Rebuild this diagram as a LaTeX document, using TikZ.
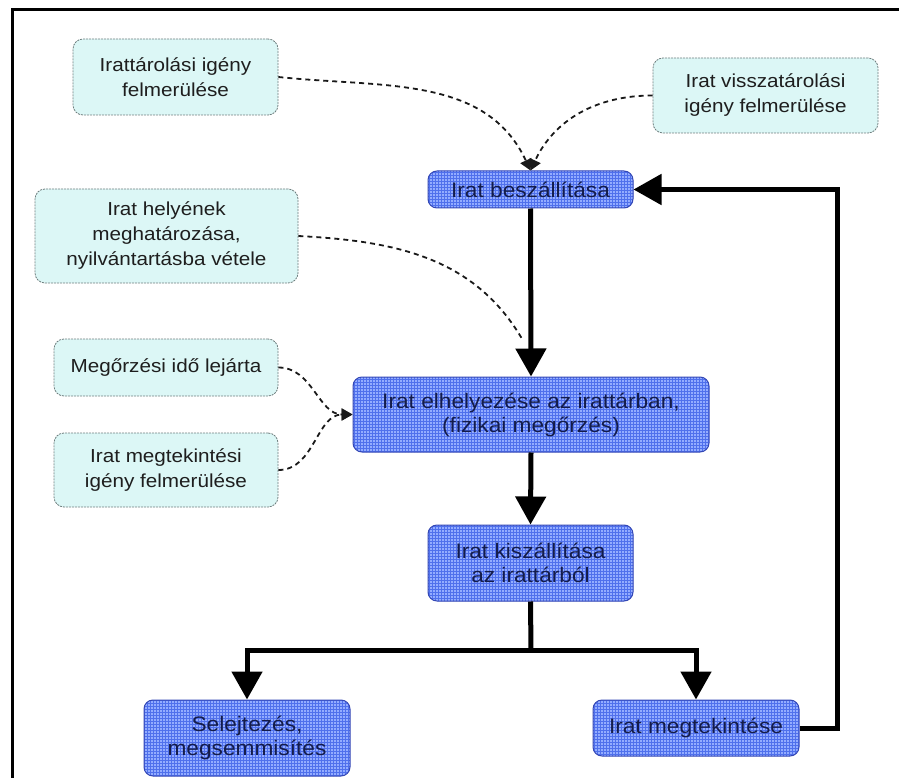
\documentclass[tikz,border=0pt]{standalone}
\usepackage{fontspec}
\setmainfont{Liberation Sans}
\newfontfamily\notefont{Liberation Sans}[FakeStretch=1.1]
\newfontfamily\stepfont{Liberation Sans}[FakeStretch=1.08]
\usetikzlibrary{arrows.meta,patterns}

\definecolor{notefill}{HTML}{DCF7F6}
\definecolor{noteline}{HTML}{6F7F7F}
\definecolor{notetext}{HTML}{1E1E1E}
\definecolor{stepfill}{HTML}{93ACFF}
\definecolor{stepgrid}{HTML}{4F70EC}
\definecolor{stepline}{HTML}{3447B4}
\definecolor{steptext}{HTML}{141C4A}

\tikzset{
  notebox/.style={draw=noteline, line width=0.8pt, dash pattern=on 2pt off 1pt,
    fill=notefill, rounded corners=10pt, align=center, text=notetext,
    inner sep=0pt, font={\notefont\fontsize{18.8}{25}\selectfont}},
  stepbox/.style={draw=stepline, line width=1pt, rounded corners=9pt,
    preaction={fill=stepfill}, pattern=grid, pattern color=stepgrid,
    align=center, text=steptext, inner sep=0pt,
    font={\stepfont\fontsize{21}{24}\selectfont}},
  flow/.style={line width=5pt, line join=miter, -{Triangle[width=30pt,length=28pt]}},
  flowline/.style={line width=5pt, line join=miter},
  hint/.style={line width=1.8pt, draw=black!90, dash pattern=on 5pt off 4pt,
    -{Triangle[width=12pt,length=11pt]}},
  hintline/.style={line width=1.8pt, draw=black!90, dash pattern=on 5pt off 4pt},
}

\begin{document}
\begin{tikzpicture}[x=1pt,y=-1pt]
\useasboundingbox (0,0) rectangle (899,778);

% frame (top and left edges)
\draw[line width=3pt] (12,778) -- (12,10) -- (899,10);

% side notes
\node[notebox, minimum width=205pt, minimum height=76pt] (n1) at (175.5,77)
  {Irattárolási igény\\felmerülése};
\node[notebox, minimum width=225pt, minimum height=75pt] (n2) at (765.5,95.5)
  {Irat visszatárolási\\igény felmerülése};
\node[notebox, minimum width=263pt, minimum height=94pt] (n3) at (166.5,236)
  {Irat helyének\\meghatározása,\\nyilvántartásba vétele};
\node[notebox, minimum width=224pt, minimum height=57pt] (n4) at (166,367.5)
  {Megőrzési idő lejárta};
\node[notebox, minimum width=224pt, minimum height=74pt] (n5) at (166,470)
  {Irat megtekintési\\igény felmerülése};

% process steps
\node[stepbox, minimum width=205pt, minimum height=37pt] (s1) at (530.5,189.5)
  {Irat beszállítása};
\node[stepbox, minimum width=356pt, minimum height=75pt] (s2) at (531,414.5)
  {Irat elhelyezése az irattárban,\\(fizikai megőrzés)};
\node[stepbox, minimum width=205pt, minimum height=76pt] (s3) at (530.5,563)
  {Irat kiszállítása\\az irattárból};
\node[stepbox, minimum width=206pt, minimum height=76pt] (s4) at (247,738)
  {Selejtezés,\\megsemmisítés};
\node[stepbox, minimum width=206pt, minimum height=56pt] (s5) at (696,728)
  {Irat megtekintése};

% dashed hints
\coordinate (merge) at ([xshift=-8pt,yshift=36pt]s2.north);
\draw[hint] (n1.east) to[out=-6,in=115] (s1.north);
\draw[hint] (n2.west) to[out=180,in=65] (s1.north);
\draw[hintline] (n3.east) to[out=-3,in=120] (merge);
\draw[hint] (n4.east) to[out=0,in=180] (s2.west);
\draw[hint] (n5.east) to[out=0,in=180] (s2.west);

% main flow
\coordinate (split) at (531,650);
\coordinate (loop) at (837,728);
\draw[flow] (s1.south) -- (s2.north);
\draw[flow] (s2.south) -- (s3.north);
\draw[flowline] (s3.south) -- (split);
\draw[flow] (split) -| (s4.north);
\draw[flow] (split) -| (s5.north);
\draw[flow] (s5.east) -- (loop) -- (loop |- s1.east) -- (s1.east);
\end{tikzpicture}
\end{document}
